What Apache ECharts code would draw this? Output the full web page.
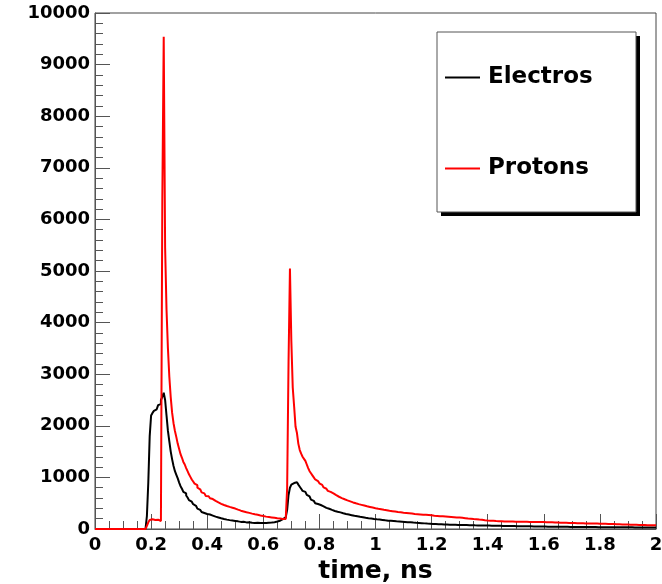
<!DOCTYPE html>
<html><head><meta charset="utf-8">
<script src="https://cdn.jsdelivr.net/npm/echarts@6/dist/echarts.min.js"></script>
<style>html,body{margin:0;padding:0;background:#fff}#c{width:662px;height:584px}</style>
</head><body><div id="c"></div>
<script>
// Histogram: 400 bins of 0.005 ns from 0 to 2 ns
const binStart = 0;
const binWidth = 0.005;
const seriesNames = ['Electros', 'Protons'];
const xTickLabels = ['0','0.2','0.4','0.6','0.8','1','1.2','1.4','1.6','1.8','2'];
const yTickLabels = ['0','1000','2000','3000','4000','5000','6000','7000','8000','9000','10000'];

const electros = [
0,0,0,0,0,0,0,0,0,0,0,0,0,0,0,0,0,0,0,0,
0,0,0,0,0,0,0,0,0,0,0,0,0,0,0,0,30,250,900,1800,
2200,2250,2290,2320,2340,2400,2420,2500,2560,2640,2500,2200,1900,1700,1500,1350,1220,1120,1050,980,
900,830,780,720,690,650,610,560,530,525,480,450,420,395,370,345,330,310,300,290,
290,280,270,260,250,240,232,224,216,208,200,194,188,182,177,172,168,164,160,156,
150,148,142,138,136,140,131,128,126,130,122,120,125,118,116,120,118,114,116,118,
116,115,118,120,122,125,128,132,138,145,150,160,175,190,210,225,240,370,660,800,
860,890,905,905,890,860,820,780,740,720,690,660,630,600,570,545,520,500,485,470,
465,450,440,425,410,400,392,385,370,362,350,345,335,330,322,315,305,300,292,285,
280,275,268,264,255,250,247,240,236,230,228,222,218,215,210,206,203,198,195,190,
188,185,183,178,176,172,168,166,162,160,158,155,153,150,148,147,144,142,140,138,
136,135,132,130,129,125,124,123,120,118,117,114,113,110,109,106,105,104,102,100,
98,97,96,95,93,92,91,89,88,87,87,85,84,83,82,81,80,79,78,77,
79,75,77,74,76,72,74,71,73,70,71,68,70,67,69,65,67,64,66,63,
66,63,64,61,63,60,62,59,61,58,60,57,59,56,58,55,57,54,56,53,
55,52,54,51,53,50,52,50,51,49,51,48,50,47,49,46,48,46,47,45,
47,45,46,44,46,43,45,43,44,42,44,41,43,41,43,40,42,40,41,39,
41,39,40,38,40,38,39,37,39,37,38,36,38,36,37,35,37,35,36,34,
36,34,36,33,35,33,35,32,34,33,34,32,34,31,33,31,33,31,32,30,
32,30,32,29,31,29,31,29,30,28,30,28,30,27,29,27,29,27,28,27
];

const protons = [
0,0,0,0,0,0,0,0,0,0,0,0,0,0,0,0,0,0,0,0,
0,0,0,0,0,0,0,0,0,0,0,0,0,0,0,0,0,60,130,175,
190,185,175,165,180,170,155,160,6400,9540,5450,4250,3500,2950,2550,2250,2050,1900,1780,1650,
1550,1450,1380,1300,1250,1180,1120,1060,1010,960,920,880,850,800,770,740,710,690,665,640,
635,615,595,580,562,545,530,515,500,488,476,465,455,445,436,428,420,412,404,396,
385,375,365,355,348,340,332,325,318,312,305,298,292,286,280,275,268,262,256,250,
245,240,236,232,228,224,220,216,212,208,205,202,198,196,194,196,200,790,3240,5050,
3640,2740,2370,1980,1860,1650,1530,1460,1400,1360,1320,1250,1180,1120,1080,1040,1000,960,930,900,
885,855,830,805,780,760,740,720,705,690,670,655,640,625,612,600,588,576,565,555,
545,535,525,515,505,498,490,482,475,468,460,454,447,440,434,428,422,416,410,404,
398,393,388,383,378,372,368,363,358,354,350,346,342,338,334,330,327,324,320,317,
314,311,308,305,302,299,296,293,290,288,285,283,280,278,276,274,272,270,268,266,
270,258,264,254,259,249,255,245,251,241,247,237,243,233,239,229,235,225,231,221,
226,216,220,210,215,204,209,199,204,193,198,188,193,182,187,177,182,171,177,166,
172,162,168,158,164,154,160,151,158,149,156,147,154,146,153,144,152,143,151,142,
150,141,149,140,148,139,147,139,146,138,146,137,145,137,144,136,144,135,143,134,
142,133,140,131,138,129,136,127,134,125,132,123,130,121,128,119,126,117,124,115,
122,114,120,112,119,111,118,110,117,109,116,108,115,107,114,106,113,105,112,104,
111,103,109,101,107,99,105,97,103,95,101,93,99,91,97,89,95,87,93,85,
91,83,89,81,87,80,86,78,85,77,84,76,83,75,82,74,81,73,80,72
];

function toSteps(values) {
  const pts = values.map((v, i) => [binStart + i * binWidth, v]);
  pts.push([binStart + values.length * binWidth, values[values.length - 1]]);
  return pts;
}

const FONT = 'DejaVu Sans';
const chart = echarts.init(document.getElementById('c'), null, {renderer: 'canvas'});
chart.setOption({
  animation: false,
  backgroundColor: '#fff',
  grid: {left: 95, right: 6, top: 13, bottom: 55, show: true, borderColor: '#444', borderWidth: 1,
         outerBoundsMode: 'none', containLabel: false},
  graphic: [
    {type: 'rect', z: 3, shape: {x: 441, y: 36, width: 199, height: 180}, style: {fill: '#000'}},
    {type: 'rect', z: 3, shape: {x: 437, y: 32, width: 199, height: 180}, style: {fill: '#fff', stroke: '#555', lineWidth: 1}}
  ],
  legend: {
    orient: 'vertical', left: 445, top: 66, z: 5, padding: 0,
    itemWidth: 35, itemHeight: 2, itemGap: 68, icon: 'rect',
    data: seriesNames,
    textStyle: {fontFamily: FONT, fontWeight: 'bold', fontSize: 23, color: '#000', padding: [5, 0, 0, 3]}
  },
  xAxis: {
    type: 'value', min: 0, max: 2, interval: 0.2,
    name: 'time, ns', nameLocation: 'middle', nameGap: 30,
    nameTextStyle: {fontFamily: FONT, fontWeight: 'bold', fontSize: 25, color: '#000'},
    axisLine: {lineStyle: {color: '#555', width: 1}},
    axisTick: {inside: true, length: 15, lineStyle: {color: '#555'}},
    minorTick: {show: true, splitNumber: 4, length: 8, lineStyle: {color: '#555'}},
    splitLine: {show: false},
    axisLabel: {fontFamily: FONT, fontWeight: 'bold', fontSize: 18, color: '#000', margin: 7,
      formatter: v => xTickLabels[Math.round(v / 0.2)]}
  },
  yAxis: {
    type: 'value', min: 0, max: 10000, interval: 1000,
    axisLine: {show: true, lineStyle: {color: '#555', width: 1}},
    axisTick: {show: true, inside: true, length: 15, lineStyle: {color: '#555'}},
    minorTick: {show: true, splitNumber: 5, length: 8, lineStyle: {color: '#555'}},
    splitLine: {show: false},
    axisLabel: {fontFamily: FONT, fontWeight: 'bold', fontSize: 18, color: '#000', margin: 5,
      formatter: v => yTickLabels[Math.round(v / 1000)]}
  },
  series: [
    {name: seriesNames[0], type: 'line', step: 'end', symbol: 'none', data: toSteps(electros),
     lineStyle: {color: '#000', width: 2}, itemStyle: {color: '#000'}},
    {name: seriesNames[1], type: 'line', step: 'end', symbol: 'none', data: toSteps(protons),
     lineStyle: {color: '#ff0000', width: 2}, itemStyle: {color: '#ff0000'}}
  ]
});
</script></body></html>
